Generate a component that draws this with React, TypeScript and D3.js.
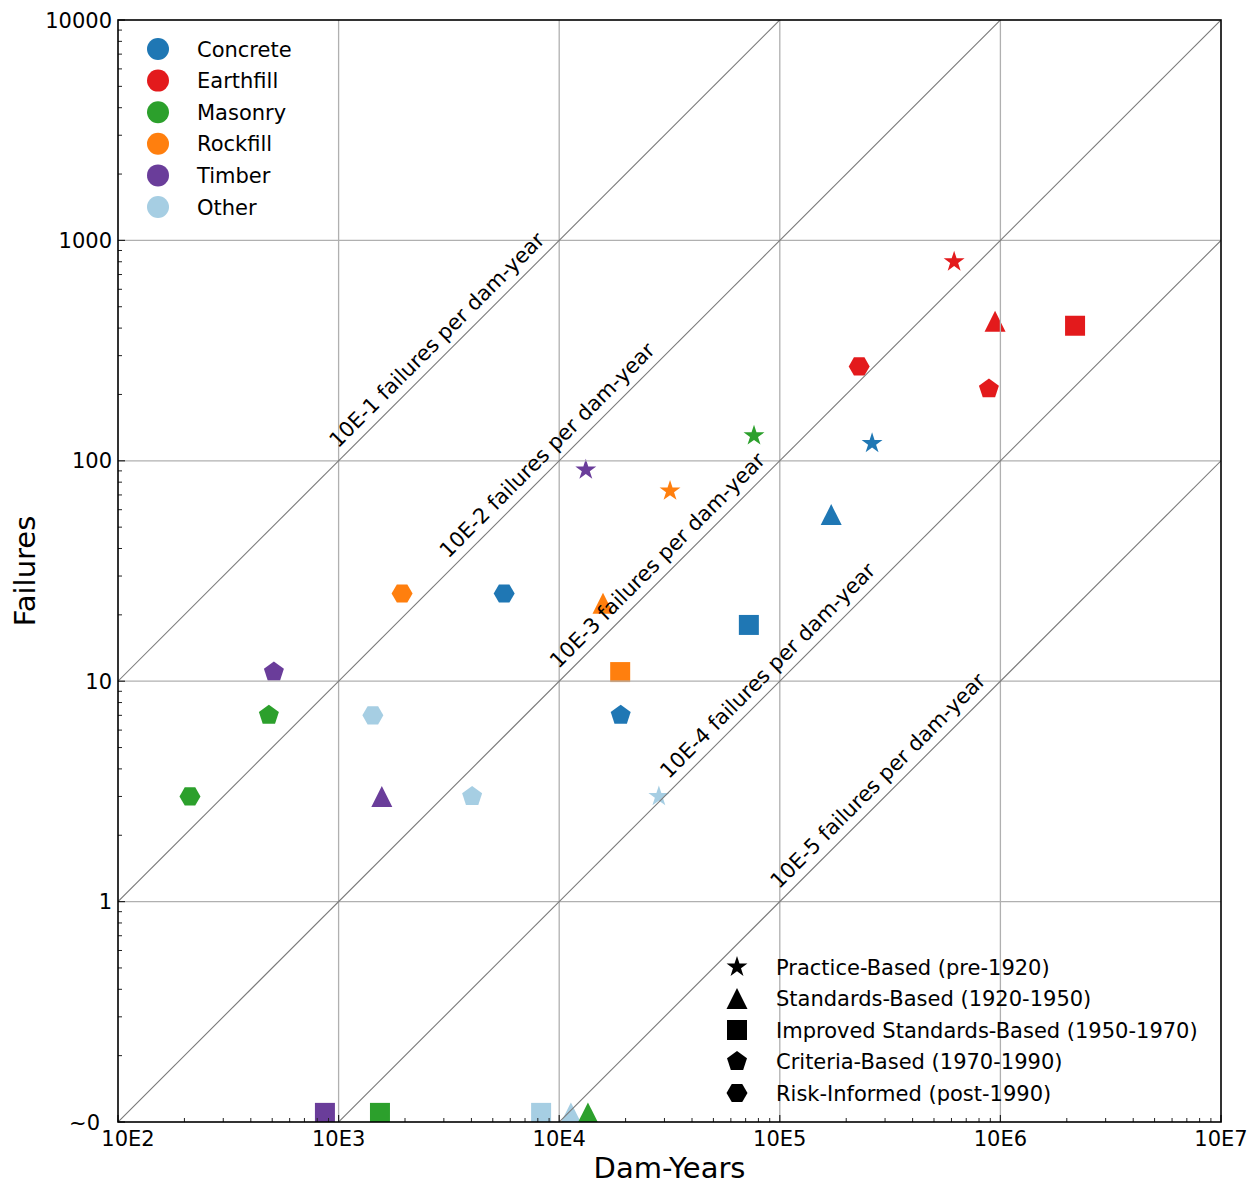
import * as d3 from 'd3';

// materials (colour legend) and design eras (marker legend)
const materials = ['Concrete', 'Earthfill', 'Masonry', 'Rockfill', 'Timber', 'Other'];
const materialColors = ['#1f77b4', '#e31a1c', '#2ca02c', '#ff7f0e', '#6a3d9a', '#a6cee3'];
const eras = [
  'Practice-Based (pre-1920)',
  'Standards-Based (1920-1950)',
  'Improved Standards-Based (1950-1970)',
  'Criteria-Based (1970-1990)',
  'Risk-Informed (post-1990)',
];
const eraShapes = ['star', 'triangle', 'square', 'pentagon', 'hexagon'];

// one value per era, in the order above; null = no point
const concreteDamYears = [262000, 171000, 72400, 19000, 5630];
const concreteFailures = [120, 57, 18, 7, 25];
const earthfillDamYears = [617000, 946000, 2180000, 887000, 229000];
const earthfillFailures = [800, 430, 410, 212, 268];
const masonryDamYears = [76400, 13500, 1540, 483, 212];
const masonryFailures = [130, 0, 0, 7, 3];
const rockfillDamYears = [31800, 15800, 18900, null, 1940];
const rockfillFailures = [73, 22.6, 11, null, 25];
const timberDamYears = [13200, 1570, 867, 509, null];
const timberFailures = [91, 3, 0, 11, null];
const otherDamYears = [28300, 11300, 8280, 4030, 1430];
const otherFailures = [3, 0, 0, 3, 7];

const damYears = [concreteDamYears, earthfillDamYears, masonryDamYears, rockfillDamYears, timberDamYears, otherDamYears];
const failures = [concreteFailures, earthfillFailures, masonryFailures, rockfillFailures, timberFailures, otherFailures];

const xTicks = [1e2, 1e3, 1e4, 1e5, 1e6, 1e7];
const xTickLabels = ['10E2', '10E3', '10E4', '10E5', '10E6', '10E7'];
const yTicks = [0.1, 1, 10, 100, 1000, 10000];
const yTickLabels = ['~0', '1', '10', '100', '1000', '10000'];
const rates = [1e-1, 1e-2, 1e-3, 1e-4, 1e-5];
const rateLabels = ['10E-1', '10E-2', '10E-3', '10E-4', '10E-5'];
const rateLabelX = [1e3, 3162, 1e4, 31623, 1e5];
const ZERO_AT = 0.11; // where zero-failure points sit

const W = 1258;
const H = 1187;
const margin = { top: 20, right: 37, bottom: 65, left: 118 };
const font = "'DejaVu Sans', sans-serif";

const x = d3.scaleLog().domain([1e2, 1e7]).range([margin.left, W - margin.right]);
const y = d3.scaleLog().domain([0.1, 1e4]).range([H - margin.bottom, margin.top]);

function regular(n: number, r: number, start: number) {
  const pts: [number, number][] = [];
  for (let i = 0; i < n; i++) {
    const a = start + (i * 2 * Math.PI) / n;
    pts.push([r * Math.cos(a), r * Math.sin(a)]);
  }
  return 'M' + pts.map(p => p.join(',')).join('L') + 'Z';
}

function markerPath(shape: string) {
  switch (shape) {
    case 'star': {
      const pts: [number, number][] = [];
      for (let i = 0; i < 10; i++) {
        const r = i % 2 === 0 ? 11 : 11 * 0.382;
        const a = -Math.PI / 2 + (i * Math.PI) / 5;
        pts.push([r * Math.cos(a), r * Math.sin(a)]);
      }
      return 'M' + pts.map(p => p.join(',')).join('L') + 'Z';
    }
    case 'triangle':
      return 'M0,-10.5L10.5,10.5L-10.5,10.5Z';
    case 'square':
      return 'M-10,-10H10V10H-10Z';
    case 'pentagon':
      return regular(5, 10.5, -Math.PI / 2);
    default:
      return regular(6, 10.5, 0);
  }
}

const minorTicks = (lo: number, hi: number) => {
  const out: number[] = [];
  for (let e = lo; e < hi; e++) for (let k = 2; k <= 9; k++) out.push(k * 10 ** e);
  return out;
};

export default function App() {
  const [x0, x1] = x.range();
  const [y0, y1] = y.range();
  const angle = (Math.atan2(y(10) - y(1), x(10) - x(1)) * 180) / Math.PI;

  const points: { px: number; py: number; color: string; shape: string }[] = [];
  // Other drawn first so the filled markers of other materials sit on top
  const drawOrder = [5, 0, 1, 2, 3, 4];
  drawOrder.forEach(m => {
    damYears[m].forEach((dy, e) => {
      const f = failures[m][e];
      if (dy == null || f == null) return;
      points.push({ px: x(dy), py: y(f === 0 ? ZERO_AT : f), color: materialColors[m], shape: eraShapes[e] });
    });
  });

  return (
    <div style={{ position: 'absolute', left: 0, top: 0 }}>
      <svg width={W} height={H} style={{ display: 'block', background: '#fff' }} fontFamily={font}>
        <defs>
          <clipPath id="plot">
            <rect x={x0} y={y1} width={x1 - x0} height={y0 - y1} />
          </clipPath>
        </defs>

        {/* markers */}
        <g clipPath="url(#plot)">
          {points.map((p, i) => (
            <path key={i} d={markerPath(p.shape)} transform={`translate(${p.px},${p.py})`} fill={p.color} />
          ))}
        </g>

        {/* grid */}
        <g stroke="#b0b0b0" strokeWidth={1.3}>
          {xTicks.slice(1, -1).map(t => (
            <line key={'gx' + t} x1={x(t)} x2={x(t)} y1={y1} y2={y0} />
          ))}
          {yTicks.slice(1, -1).map(t => (
            <line key={'gy' + t} x1={x0} x2={x1} y1={y(t)} y2={y(t)} />
          ))}
        </g>

        {/* constant failure-rate lines */}
        <g clipPath="url(#plot)" stroke="#7a7a7a" strokeWidth={1.1}>
          {rates.map(r => (
            <line key={'r' + r} x1={x(1e2)} y1={y(r * 1e2)} x2={x(1e7)} y2={y(r * 1e7)} />
          ))}
        </g>
        {rates.map((r, i) => (
          <text
            key={'rl' + r}
            transform={`translate(${x(rateLabelX[i])},${y(r * rateLabelX[i])}) rotate(${angle})`}
            x={8}
            y={-9}
            fontSize={21}
            fill="#000"
          >
            {rateLabels[i]} failures per dam-year
          </text>
        ))}

        {/* minor ticks */}
        <g stroke="#222" strokeWidth={1}>
          {minorTicks(2, 7).map(t => (
            <line key={'mx' + t} x1={x(t)} x2={x(t)} y1={y0} y2={y0 - 4} />
          ))}
          {minorTicks(-1, 4).map(t => (
            <line key={'my' + t} x1={x0} x2={x0 + 4} y1={y(t)} y2={y(t)} />
          ))}
        </g>
        <g stroke="#222" strokeWidth={1.2}>
          {xTicks.map(t => (
            <line key={'Mx' + t} x1={x(t)} x2={x(t)} y1={y0} y2={y0 - 7} />
          ))}
          {yTicks.map(t => (
            <line key={'My' + t} x1={x0} x2={x0 + 7} y1={y(t)} y2={y(t)} />
          ))}
        </g>

        {/* frame */}
        <rect x={x0} y={y1} width={x1 - x0} height={y0 - y1} fill="none" stroke="#000" strokeWidth={1.6} />

        {/* tick labels */}
        {xTicks.map((t, i) => (
          <text key={'xl' + t} x={x(t) + (i === 0 ? 10 : 0)} y={y0 + 24} textAnchor="middle" fontSize={21}>
            {xTickLabels[i]}
          </text>
        ))}
        {yTicks.map((t, i) => (
          <text key={'yl' + t} x={x0 - (i === 0 ? 18 : 6)} y={y(t)} dy="0.36em" textAnchor="end" fontSize={21}>
            {yTickLabels[i]}
          </text>
        ))}

        {/* axis titles */}
        <text x={(x0 + x1) / 2} y={1178} textAnchor="middle" fontSize={29}>
          Dam-Years
        </text>
        <text transform={`translate(35,${(y0 + y1) / 2}) rotate(-90)`} textAnchor="middle" fontSize={29}>
          Failures
        </text>

        {/* material legend */}
        {materials.map((m, i) => (
          <g key={'lm' + m} transform={`translate(158,${49 + i * 31.6})`}>
            <circle r={11} fill={materialColors[i]} />
            <text x={39} dy="0.36em" fontSize={21}>
              {m}
            </text>
          </g>
        ))}

        {/* era legend */}
        {eras.map((e, i) => (
          <g key={'le' + e} transform={`translate(737,${967 + i * 31.5})`}>
            <path d={markerPath(eraShapes[i])} fill="#000" />
            <text x={39} dy="0.36em" fontSize={21}>
              {e}
            </text>
          </g>
        ))}
      </svg>
    </div>
  );
}
